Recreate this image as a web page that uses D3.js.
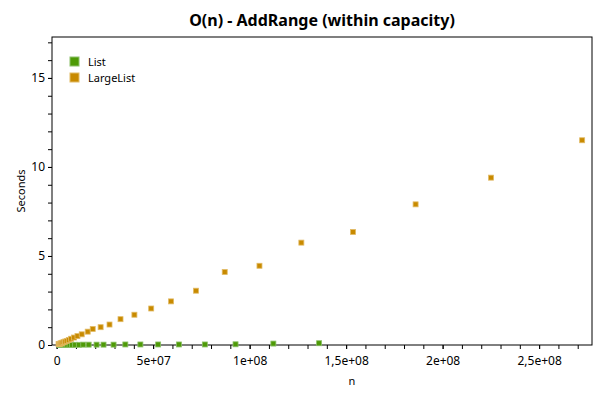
<!DOCTYPE html>
<html><head><meta charset="utf-8">
<script src="https://cdn.jsdelivr.net/npm/d3@7"></script>
<style>body{margin:0;background:#fff}text{font-family:"Noto Sans","Open Sans",sans-serif}</style>
</head><body><svg id="c" width="600" height="400"></svg>
<script>
const listN = [1.5e6,1.9e6,2.2e6,2.7e6,3.2e6,3.9e6,4.6e6,5.5e6,6.7e6,8e6,9.6e6,1.15e7,1.38e7,1.66e7,2.07e7,2.43e7,2.95e7,3.56e7,4.34e7,5.26e7,6.34e7,7.68e7,9.27e7,1.123e8,1.36e8];
const listS = [0,0,0,0,0,0,0,0.01,0.01,0.01,0.01,0.01,0.02,0.02,0.02,0.02,0.02,0.03,0.03,0.03,0.03,0.03,0.04,0.08,0.1];
const largeN = [1e6,1.3e6,1.7e6,2.1e6,2.5e6,3e6,3.6e6,4.3e6,5.2e6,6.3e6,7.5e6,9e6,1.08e7,1.3e7,1.61e7,1.87e7,2.28e7,2.74e7,3.31e7,4.03e7,4.9e7,5.93e7,7.22e7,8.71e7,1.051e8,1.268e8,1.536e8,1.86e8,2.251e8,2.723e8];
const largeS = [0.05,0.06,0.07,0.09,0.1,0.13,0.16,0.19,0.23,0.28,0.35,0.42,0.5,0.6,0.75,0.9,1.0,1.15,1.45,1.7,2.05,2.45,3.05,4.1,4.45,5.75,6.35,7.9,9.4,11.5];
const xTicks = [0,5e7,1e8,1.5e8,2e8,2.5e8];
const xTickLabels = ["0","5e+07","1e+08","1,5e+08","2e+08","2,5e+08"];
const yTicks = [0,5,10,15];
const series = [{name:"List",n:listN,s:listS,fill:"#4e9a06",stroke:"#8cc06a"},
                {name:"LargeList",n:largeN,s:largeS,fill:"#c88a00",stroke:"#e2bb66"}];
const svg=d3.select("#c");
const L=52,R=592,T=37,B=345;
const x=d3.scaleLinear().domain([-2.4e6,2.774e8]).range([L,R]);
const y=d3.scaleLinear().domain([0,17.3]).range([B,T]);
svg.append("rect").attr("x",L).attr("y",T).attr("width",R-L).attr("height",B-T).attr("fill","none").attr("stroke","#000");
const xa=svg.append("g").attr("transform",`translate(0,${B})`).call(d3.axisBottom(x).tickValues(d3.range(0,2.75e8,1e7)).tickSize(4).tickFormat(""));
const xl=svg.append("g").attr("transform",`translate(0,${B})`).call(d3.axisBottom(x).tickValues(xTicks).tickSize(4).tickFormat((d,i)=>xTickLabels[i]));
const ya=svg.append("g").attr("transform",`translate(${L},0)`).call(d3.axisLeft(y).tickValues(d3.range(0,17.1,1)).tickSize(4).tickFormat(""));
const yl=svg.append("g").attr("transform",`translate(${L},0)`).call(d3.axisLeft(y).tickValues(yTicks).tickSize(4));
[xa,xl,ya,yl].forEach(g=>{g.select(".domain").remove();g.selectAll("text").attr("font-size",12).attr("fill","#000");g.selectAll("line").attr("stroke","#000");});
xl.selectAll("text").attr("dy","1.1em");
series.forEach(se=>{
  svg.append("g").selectAll("rect").data(se.n).join("rect")
    .attr("x",(d)=>x(d)-2.5).attr("y",(d,i)=>y(se.s[i])-2.5).attr("width",5).attr("height",5)
    .attr("fill",se.fill).attr("stroke",se.stroke).attr("stroke-width",0.8);
});
svg.append("text").attr("x",322).attr("y",26).attr("text-anchor","middle").attr("font-size",16).attr("font-weight","bold").text("O(n) - AddRange (within capacity)");
svg.append("text").attr("x",352).attr("y",385).attr("text-anchor","middle").attr("font-size",11).text("n");
svg.append("text").attr("transform","translate(25,191) rotate(-90)").attr("text-anchor","middle").attr("font-size",11).text("Seconds");
series.forEach((se,i)=>{
  svg.append("rect").attr("x",70).attr("y",57+i*16).attr("width",9).attr("height",9).attr("fill",se.fill).attr("stroke",se.stroke);
  svg.append("text").attr("x",88).attr("y",66+i*16).attr("font-size",11).text(se.name);
});
</script></body></html>
